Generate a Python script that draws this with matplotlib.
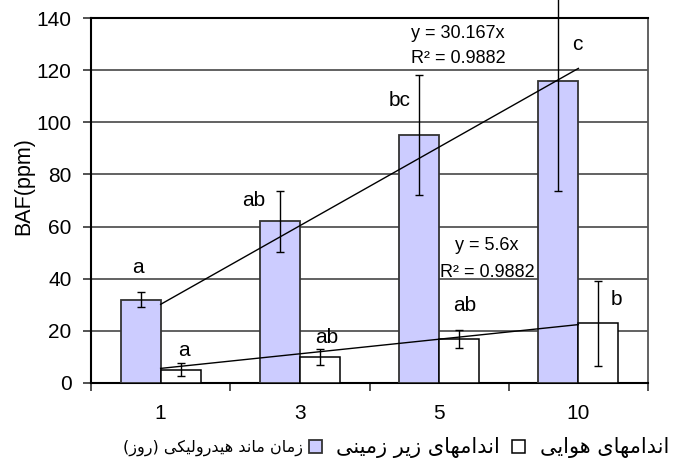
import matplotlib
matplotlib.use('Agg')
import matplotlib.pyplot as plt
import numpy as np
from matplotlib import font_manager
from matplotlib.ft2font import FT2Font

# ---------------- data ----------------
categories = ['1', '3', '5', '10']
underground = [32, 62, 95, 116]
underground_err = [2.8, 11.7, 23, 42.4]
aerial = [5, 10, 17, 23]
aerial_err = [2.5, 3.0, 3.4, 16.3]
underground_letters = ['a', 'ab', 'bc', 'c']
aerial_letters = ['a', 'ab', 'ab', 'b']
slope_underground = 30.167
slope_aerial = 5.6
r2_underground = 0.9882
r2_aerial = 0.9882
yticks = [0, 20, 40, 60, 80, 100, 120, 140]
ylabel = 'BAF(ppm)'
xlabel_fa = 'زمان ماند هیدرولیکی (روز)'
label_underground = 'اندامهای زیر زمینی'
label_aerial = 'اندامهای هوایی'

# ---------------- simple Persian shaping (visual order) ----------------
_dv_path = font_manager.findfont('DejaVu Sans')
_cmap = FT2Font(_dv_path).get_charmap()

def _pick(primary, fallback):
    return primary if all(ord(c) in _cmap for c in primary if c) else fallback

FORMS = {
    '\u0627': ('\uFE8D', '\uFE8E', None, None),
    '\u062F': ('\uFEA9', '\uFEAA', None, None),
    '\u0631': ('\uFEAD', '\uFEAE', None, None),
    '\u0632': ('\uFEAF', '\uFEB0', None, None),
    '\u0648': ('\uFEED', '\uFEEE', None, None),
    '\u0644': ('\uFEDD', '\uFEDE', '\uFEDF', '\uFEE0'),
    '\u0645': ('\uFEE1', '\uFEE2', '\uFEE3', '\uFEE4'),
    '\u0646': ('\uFEE5', '\uFEE6', '\uFEE7', '\uFEE8'),
    '\u0647': ('\uFEE9', '\uFEEA', '\uFEEB', '\uFEEC'),
    '\u06CC': _pick(('\uFBFC', '\uFBFD', '\uFBFE', '\uFBFF'),
                    ('\uFEEF', '\uFEF0', '\uFEF3', '\uFEF4')),
    '\u06A9': _pick(('\uFB8E', '\uFB8F', '\uFB90', '\uFB91'),
                    ('\uFED9', '\uFEDA', '\uFEDB', '\uFEDC')),
}

def shape_fa(s):
    out = []
    n = len(s)
    for i, c in enumerate(s):
        if c not in FORMS:
            out.append(c)
            continue
        f = FORMS[c]
        prev = s[i - 1] if i > 0 else ''
        nxt = s[i + 1] if i + 1 < n else ''
        jp = prev in FORMS and FORMS[prev][2] is not None
        jn = f[2] is not None and nxt in FORMS
        if jp and jn:
            out.append(f[3])
        elif jp:
            out.append(f[1])
        elif jn:
            out.append(f[2])
        else:
            out.append(f[0])
    vis = ''.join(reversed(out))
    return vis.translate(str.maketrans('()', ')('))

# ---------------- figure ----------------
plt.rcParams['font.family'] = ['Liberation Sans', 'DejaVu Sans']
fig = plt.figure(figsize=(6.75, 4.62), dpi=100)
ax = fig.add_axes([91 / 675, 1 - 383 / 462, 557 / 675, 365 / 462])

x = np.arange(len(categories))
w = 0.288
purple = '#CCCCFF'
edge = '#333333'

b1 = ax.bar(x - w, underground, width=w, align='edge', color=purple,
            edgecolor=edge, linewidth=1.3, zorder=3)
b2 = ax.bar(x, aerial, width=w, align='edge', color='white',
            edgecolor='black', linewidth=1.1, zorder=3)

for xs, vals, errs in [(x - w / 2, underground, underground_err),
                       (x + w / 2, aerial, aerial_err)]:
    cont = ax.errorbar(xs, vals, yerr=errs, fmt='none', ecolor='black',
                       elinewidth=1.0, capsize=2.9, capthick=1.0, zorder=5)
    for art in cont.lines[1] + cont.lines[2]:
        art.set_clip_on(False)

# trend lines (y = slope * n, n = 1..4 at category centers)
n = np.arange(1, len(categories) + 1)
ax.plot(x, slope_underground * n, color='black', lw=1.0, zorder=6)
ax.plot(x, slope_aerial * n, color='black', lw=1.0, zorder=6)

# significance letters (offset points from bar tops)
off_u = [(-2, 23), (-19, 15), (-14, 25), (14, 26)]
off_a = [(2, 14), (5, 14), (4, 24), (13, 17)]
for i in range(len(categories)):
    ax.annotate(underground_letters[i], (x[i] - w / 2, underground[i]),
                xytext=off_u[i], textcoords='offset points',
                ha='center', va='center', fontsize=15, zorder=7)
    ax.annotate(aerial_letters[i], (x[i] + w / 2, aerial[i]),
                xytext=off_a[i], textcoords='offset points',
                ha='center', va='center', fontsize=15, zorder=7)

ax.text(0.659, 0.958, f'y = {slope_underground}x', transform=ax.transAxes,
        ha='center', va='center', fontsize=13, zorder=7)
ax.text(0.659, 0.890, f'R² = {r2_underground}', transform=ax.transAxes,
        ha='center', va='center', fontsize=13, zorder=7)
ax.text(0.711, 0.378, f'y = {slope_aerial}x', transform=ax.transAxes,
        ha='center', va='center', fontsize=13, zorder=7)
ax.text(0.711, 0.304, f'R² = {r2_aerial}', transform=ax.transAxes,
        ha='center', va='center', fontsize=13, zorder=7)

# axes styling
ax.set_xlim(-0.5, len(categories) - 0.5)
ax.set_ylim(0, 140)
ax.set_yticks(yticks)
ax.set_yticklabels([str(t) for t in yticks])
ax.yaxis.grid(True, color='#555555', lw=1.3, zorder=0)
ax.set_axisbelow(True)
ax.set_xticks(x)
ax.set_xticklabels(categories)
ax.set_xticks(np.arange(len(categories) + 1) - 0.5, minor=True)
ax.tick_params(axis='x', which='major', length=0, pad=15, labelsize=15)
ax.tick_params(axis='x', which='minor', length=6, width=1.2, color='#333333', direction='out')
ax.tick_params(axis='y', length=6, width=1.2, color='#333333', direction='out', pad=8, labelsize=15)
for s in ['left', 'bottom', 'top']:
    ax.spines[s].set_color('black')
    ax.spines[s].set_linewidth(1.5)
ax.spines['right'].set_color('#555555')
ax.spines['right'].set_linewidth(1.3)

fig.text(24 / 675, 1 - 186 / 462, ylabel, rotation=90, ha='center', va='center', fontsize=15.5)

# bottom line: x label + legend (Persian)
fig.text(303 / 675, 1 - 448 / 462, shape_fa(xlabel_fa), ha='right', va='center',
         fontsize=11.5, family='DejaVu Sans')
fig.legend([b1, b2], [shape_fa(label_underground), shape_fa(label_aerial)],
           loc='center left', bbox_to_anchor=(309 / 675, 1 - 448 / 462),
           ncol=2, frameon=False, handlelength=0.6, handleheight=0.6,
           handletextpad=0.7, columnspacing=0.6, borderpad=0, borderaxespad=0,
           prop={'family': 'DejaVu Sans', 'size': 15})

fig.savefig('out.png', dpi=100)
